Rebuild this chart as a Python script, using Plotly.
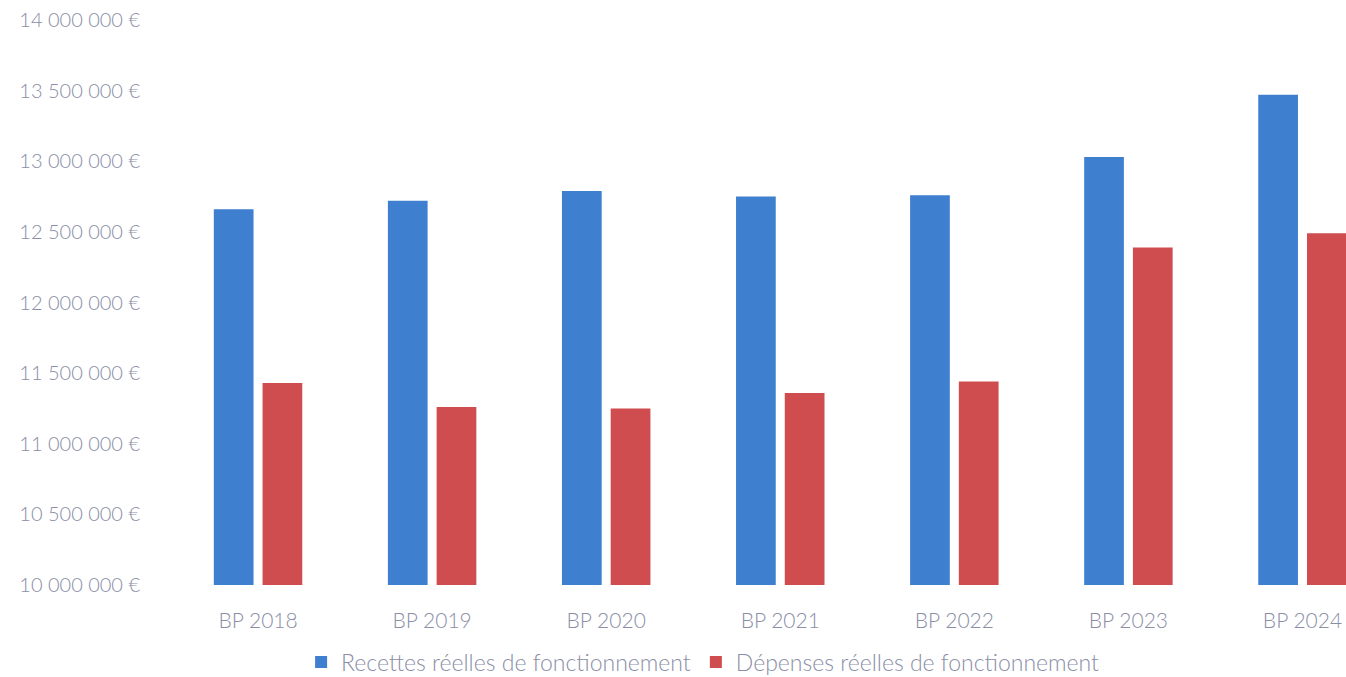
import plotly.graph_objects as go

# Budget primitif : recettes et dépenses réelles de fonctionnement
categories = ["BP 2018", "BP 2019", "BP 2020", "BP 2021", "BP 2022", "BP 2023", "BP 2024"]
recettes = [12660000, 12720000, 12790000, 12750000, 12760000, 13030000, 13470000]
depenses = [11430000, 11260000, 11250000, 11360000, 11440000, 12390000, 12490000]

tick_values = [10000000, 10500000, 11000000, 11500000, 12000000,
               12500000, 13000000, 13500000, 14000000]
tick_labels = ["10 000 000 €", "10 500 000 €", "11 000 000 €", "11 500 000 €",
               "12 000 000 €", "12 500 000 €", "13 000 000 €", "13 500 000 €",
               "14 000 000 €"]

BLUE = "#3f7fcf"
RED = "#cf4d4e"
TEXT = "#8a8ea6"
FONT = "Lato"

fig = go.Figure()
fig.add_trace(go.Bar(
    name="Recettes réelles de fonctionnement",
    x=categories, y=recettes, base=0,
    marker=dict(color=BLUE, line=dict(width=0)),
))
fig.add_trace(go.Bar(
    name="Dépenses réelles de fonctionnement",
    x=categories, y=depenses, base=0,
    marker=dict(color=RED, line=dict(width=0)),
))

fig.update_layout(
    width=1346, height=677,
    margin=dict(l=171, r=0, t=20, b=92, autoexpand=False),
    paper_bgcolor="white", plot_bgcolor="white",
    barmode="group", bargap=0.44, bargroupgap=0.185,
    font=dict(family=FONT, size=20, color=TEXT, weight=300),
    showlegend=True,
    legend=dict(
        orientation="h", xref="container", x=0.522, xanchor="center",
        yref="container", y=0.022, yanchor="middle",
        font=dict(family=FONT, size=23, color=TEXT, weight=300),
        itemwidth=30, traceorder="normal",
    ),
)
fig.update_xaxes(
    range=[-0.5, 6.25], showgrid=False, showline=False, zeroline=False,
    ticks="", ticklabelstandoff=21, automargin=False,
    tickfont=dict(family=FONT, size=21, color=TEXT, weight=300),
)
fig.update_yaxes(
    range=[10000000, 14000000], showgrid=False, showline=False, zeroline=False,
    tickvals=tick_values, ticktext=tick_labels, ticks="",
    ticklabelstandoff=30, automargin=False,
    tickfont=dict(family=FONT, size=20, color=TEXT, weight=300),
)

fig.write_html("out.html")
